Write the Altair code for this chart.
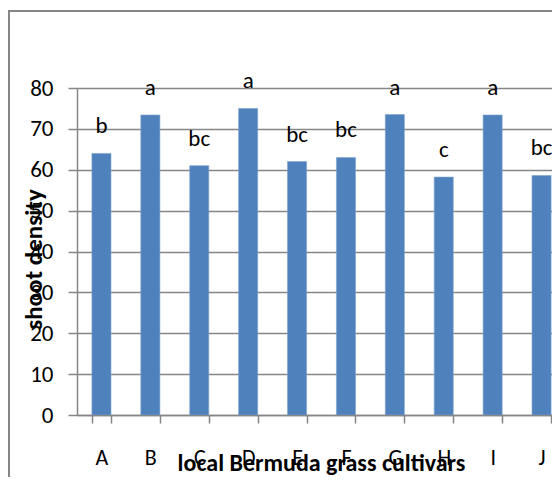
import altair as alt
import pandas as pd

cultivars = ["A", "B", "C", "D", "E", "F", "G", "H", "I", "J"]
density = [64.0, 73.4, 61.0, 75.0, 62.0, 63.0, 73.5, 58.2, 73.4, 58.6]
letters = ["b", "a", "bc", "a", "bc", "bc", "a", "c", "a", "bc"]

df = pd.DataFrame({"cultivar": cultivars, "density": density, "letter": letters})

FONT = "Carlito, Open Sans, Liberation Sans, sans-serif"
GRAY = "#868686"

xscale = alt.Scale(domain=cultivars, range=[0, 489], paddingInner=0.61, paddingOuter=0.305)
yscale = alt.Scale(domain=[0, 80], nice=False)

base = alt.Chart(df)

bars = base.mark_bar(color="#4F81BD", stroke="#7DA2CE", strokeWidth=0.6, clip=True).encode(
    x=alt.X("cultivar:N", scale=xscale, sort=cultivars,
            axis=alt.Axis(title="local Bermuda grass cultivars", labelAngle=0,
                          tickBand="extent", tickSize=8, tickColor=GRAY, domainColor=GRAY,
                          domainWidth=1.5, tickWidth=1.5,
                          labelPadding=24, labelFontSize=22, labelFont=FONT, labelColor="black",
                          titleFont=FONT, titleFontSize=24, titleFontWeight="bold", titleColor="black",
                          titleX=244, titleY=48, titleBaseline="middle")),
    y=alt.Y("density:Q", scale=yscale,
            axis=alt.Axis(title="shoot density", values=[0, 10, 20, 30, 40, 50, 60, 70, 80],
                          grid=True, gridColor=GRAY, gridWidth=1.5,
                          tickSize=9, tickColor=GRAY, domainColor=GRAY, domainWidth=1.5, tickWidth=1.5,
                          labelPadding=15, labelFontSize=23, labelFont=FONT, labelColor="black",
                          titleFont=FONT, titleFontSize=25, titleFontWeight="bold", titleColor="black",
                          titleX=-44, titleY=171, titleBaseline="middle", titleAngle=-90)),
)

text = base.mark_text(fontSize=23, font=FONT, color="black", baseline="middle", dy=-27).encode(
    x=alt.X("cultivar:N", scale=xscale, sort=cultivars),
    y=alt.Y("density:Q", scale=yscale),
    text="letter:N",
)

border_df = pd.DataFrame({"k": [0]})
border = alt.Chart(border_df).mark_rect(fill=None, stroke=GRAY, strokeWidth=2, clip=False).encode(
    x=alt.value(-68), x2=alt.value(700), y=alt.value(-77), y2=alt.value(700)
)

chart = alt.layer(border, bars, text).properties(
    width=475, height=327,
    autosize=alt.AutoSizeParams(type="none"),
    padding={"left": 69, "top": 80, "right": 0, "bottom": 62},
).configure_view(stroke=None).configure(background="white")

chart.save("out.html", embed_options={"renderer": "svg", "actions": False})
